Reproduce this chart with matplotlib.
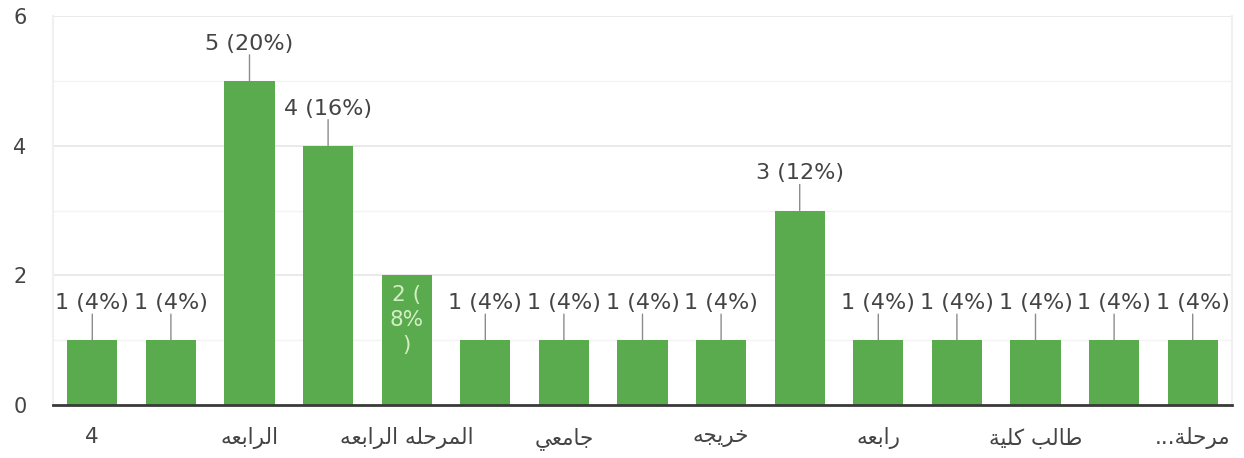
import matplotlib
matplotlib.use("Agg")
import matplotlib.pyplot as plt
import numpy as np

# Response counts per answer (15 answers, 25 responses in total)
categories = ["4", "", "الرابعه", "", "المرحله الرابعه", "", "جامعي", "",
              "خريجه", "", "رابعه", "", "طالب كلية", "",
              "\u0645\u0631\u062D\u0644\u0629..."]
counts = [1, 1, 5, 4, 2, 1, 1, 1, 1, 3, 1, 1, 1, 1, 1]
y_ticks = [0, 2, 4, 6]

BAR = "#5aab4d"
TEXT = "#444444"

# --- minimal Arabic shaping (presentation forms B) so glyphs join RTL ---
FORMS = {
    "\u0627": ("\uFE8D", "\uFE8E", None, None),
    "\u0628": ("\uFE8F", "\uFE90", "\uFE91", "\uFE92"),
    "\u0629": ("\uFE93", "\uFE94", None, None),
    "\u062C": ("\uFE9D", "\uFE9E", "\uFE9F", "\uFEA0"),
    "\u062D": ("\uFEA1", "\uFEA2", "\uFEA3", "\uFEA4"),
    "\u062E": ("\uFEA5", "\uFEA6", "\uFEA7", "\uFEA8"),
    "\u0631": ("\uFEAD", "\uFEAE", None, None),
    "\u0637": ("\uFEC1", "\uFEC2", "\uFEC3", "\uFEC4"),
    "\u0639": ("\uFEC9", "\uFECA", "\uFECB", "\uFECC"),
    "\u0643": ("\uFED9", "\uFEDA", "\uFEDB", "\uFEDC"),
    "\u0644": ("\uFEDD", "\uFEDE", "\uFEDF", "\uFEE0"),
    "\u0645": ("\uFEE1", "\uFEE2", "\uFEE3", "\uFEE4"),
    "\u0647": ("\uFEE9", "\uFEEA", "\uFEEB", "\uFEEC"),
    "\u064A": ("\uFEF1", "\uFEF2", "\uFEF3", "\uFEF4"),
}


def dual(c):
    return c in FORMS and FORMS[c][2] is not None


def shape(text):
    if not any(c in FORMS for c in text):
        return text
    out = []
    for i, c in enumerate(text):
        if c not in FORMS:
            out.append(c)
            continue
        prev = text[i - 1] if i > 0 else ""
        nxt = text[i + 1] if i + 1 < len(text) else ""
        jp = dual(prev)
        jn = dual(c) and nxt in FORMS
        iso, fin, ini, med = FORMS[c]
        if jp and jn:
            out.append(med)
        elif jp:
            out.append(fin)
        elif jn:
            out.append(ini)
        else:
            out.append(iso)
    return "".join(reversed(out))


plt.rcParams["font.family"] = ["DejaVu Sans"]

fig = plt.figure(figsize=(12.44, 4.58), dpi=100)
ax = fig.add_axes([53 / 1244, 1 - 405 / 458, (1232 - 53) / 1244, (405 - 16) / 458])

x = np.arange(len(counts))
ax.bar(x, counts, width=0.64, color=BAR, zorder=3)

ax.set_xlim(-0.5, len(counts) - 0.5)
ax.set_ylim(0, 6)
ax.set_yticks(y_ticks)
ax.set_yticks([1, 3, 5], minor=True)
ax.grid(axis="y", which="major", color="#e6e6e6", linewidth=1.2, zorder=0)
ax.grid(axis="y", which="minor", color="#f3f3f3", linewidth=1.0, zorder=0)
ax.tick_params(axis="y", which="both", length=0, labelsize=15, labelcolor=TEXT, pad=19)
ax.set_xticks(x)
ax.set_xticklabels([shape(c) for c in categories])
ax.tick_params(axis="x", length=0, labelsize=15.5, labelcolor=TEXT, pad=16)

ax.spines["top"].set_visible(False)
for s in ("left", "right"):
    ax.spines[s].set_color("#f0f0f0")
    ax.spines[s].set_linewidth(1.5)
ax.spines["bottom"].set_color("#3a3a3a")
ax.spines["bottom"].set_linewidth(2)
ax.spines["bottom"].set_zorder(4)

total = sum(counts)
for xi, v in zip(x, counts):
    pct = round(100 * v / total)
    if v == 2:
        ax.annotate(f"{v} (\n{pct}%\n)", xy=(xi, v), xytext=(0, -10),
                    textcoords="offset pixels", ha="center", va="top",
                    fontsize=15.5, color="#d4eec6", linespacing=1.3, zorder=5)
        continue
    ax.annotate("", xy=(xi, v), xytext=(0, 26), textcoords="offset pixels",
                arrowprops=dict(arrowstyle="-", color="#8c8c8c", lw=1,
                                shrinkA=0, shrinkB=0), zorder=4)
    ax.annotate(f"{v} ({pct}%)", xy=(xi, v), xytext=(0, 27),
                textcoords="offset pixels", ha="center", va="bottom",
                fontsize=16, color=TEXT, zorder=5)

fig.savefig("out.png", dpi=100)
